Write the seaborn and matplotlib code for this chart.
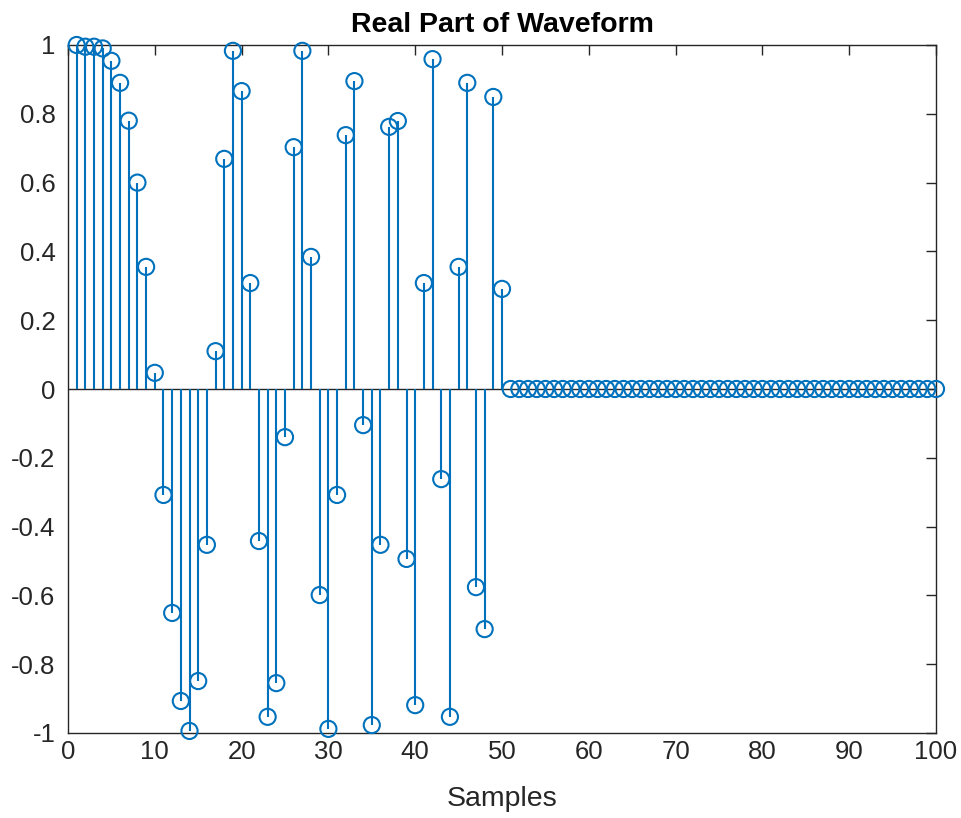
import numpy as np
import pandas as pd
import matplotlib
matplotlib.use("Agg")
import matplotlib.pyplot as plt
import seaborn as sns

samples = list(range(1, 101))
values_first_half = [
    1.0, 0.995, 0.995, 0.99, 0.954, 0.89, 0.78, 0.60, 0.355, 0.047,
    -0.308, -0.651, -0.907, -0.994, -0.849, -0.453, 0.11, 0.669, 0.983, 0.866,
    0.308, -0.442, -0.953, -0.855, -0.14, 0.703, 0.983, 0.384, -0.599, -0.988,
    -0.308, 0.738, 0.895, -0.105, -0.977, -0.453, 0.762, 0.779, -0.494, -0.919,
    0.308, 0.959, -0.262, -0.953, 0.355, 0.89, -0.576, -0.698, 0.849, 0.291,
]
values_second_half = [0.0] * 50
values = values_first_half + values_second_half

xticks = [0, 10, 20, 30, 40, 50, 60, 70, 80, 90, 100]
yticks = [-1, -0.8, -0.6, -0.4, -0.2, 0, 0.2, 0.4, 0.6, 0.8, 1]
ytick_labels = ["-1", "-0.8", "-0.6", "-0.4", "-0.2", "0", "0.2", "0.4", "0.6", "0.8", "1"]

title = "Real Part of Waveform"
xlabel = "Samples"

sns.set_style("white")
plt.rcParams['font.family'] = ['Liberation Sans', 'DejaVu Sans']

df = pd.DataFrame({"Samples": samples, "Value": values})
color = "#0072BD"

fig = plt.figure(figsize=(9.62, 8.18), dpi=100)
ax = fig.add_axes([68/962, 1-733/818, (936-68)/962, (733-45)/818])

ax.axhline(0, color="#262626", lw=1.0, zorder=1)
ax.vlines(df["Samples"], 0, df["Value"], color=color, lw=1.5, zorder=2)
sns.scatterplot(data=df, x="Samples", y="Value", ax=ax, marker="o",
                s=135, facecolors="none", edgecolor=color, linewidth=1.5,
                zorder=3, clip_on=False, legend=False)

ax.set_xlim(0, 100)
ax.set_ylim(-1, 1)
ax.set_xticks(xticks)
ax.set_yticks(yticks)
ax.set_yticklabels(ytick_labels)
ax.tick_params(direction="in", length=7, width=1, colors="#262626",
               labelsize=18.5, top=True, right=True)
ax.tick_params(axis="y", pad=9)
ax.tick_params(axis="x", pad=5)
for sp in ax.spines.values():
    sp.set_color("#262626")
    sp.set_linewidth(1.0)
ax.set_title(title, fontsize=20.5, fontweight="bold", color="#000000", pad=9)
ax.set_xlabel(xlabel, fontsize=20.5, color="#262626", labelpad=16)
ax.set_ylabel("")

fig.savefig("out.png", dpi=100, facecolor="white")
